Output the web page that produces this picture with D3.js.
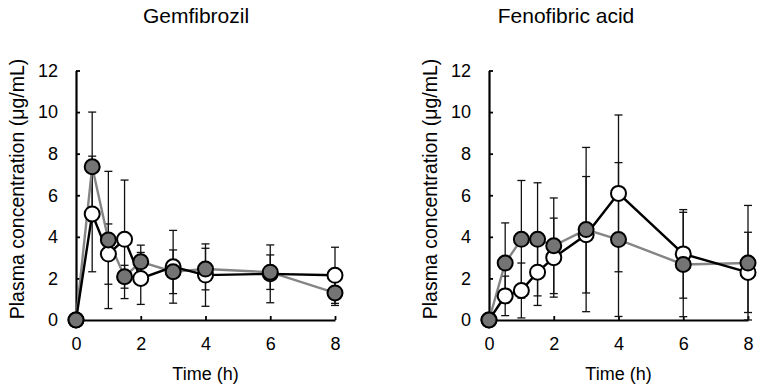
<!DOCTYPE html>
<html>
<head>
<meta charset="utf-8">
<script src="https://cdn.jsdelivr.net/npm/d3@7"></script>
<style>
	body { margin: 0; background: #fff; }
	svg { display: block; font-family: "Liberation Sans", Arial, sans-serif; }
</style>
</head>
<body>
<script>
// Sampling times (h)
const times = [0, 0.5, 1, 1.5, 2, 3, 4, 6, 8];

// Gemfibrozil: open circles (black line) and filled circles (gray line), mean and SD
const gemOpenMean = [0, 5.1, 3.17, 3.88, 2.0, 2.56, 2.16, 2.22, 2.15];
const gemOpenSd = [0, 2.78, 1.45, 2.85, 1.25, 1.75, 1.5, 1.39, 1.35];
const gemFilledMean = [0, 7.37, 3.85, 2.08, 2.8, 2.32, 2.45, 2.3, 1.3];
const gemFilledSd = [0, 2.63, 3.3, 0.55, 0.8, 1.05, 1.0, 0.83, 0.6];

// Fenofibric acid
const fenoOpenMean = [0, 1.16, 1.42, 2.3, 3.0, 4.1, 6.09, 3.18, 2.29];
const fenoOpenSd = [0, 0.95, 1.32, 1.6, 1.9, 2.8, 3.77, 2.13, 1.93];
const fenoFilledMean = [0, 2.74, 3.88, 3.88, 3.57, 4.35, 3.87, 2.67, 2.74];
const fenoFilledSd = [0, 1.93, 2.83, 2.72, 2.3, 3.95, 3.7, 2.51, 2.77];

// Tick labels
const xTicks = [0, 2, 4, 6, 8];
const yTicks = [0, 2, 4, 6, 8, 10, 12];

const w = 762;
const h = 392;

const svg = d3.select("body").append("svg").attr("width", w).attr("height", h);

// One panel per drug
function drawPanel(opts) {
	const xScale = d3.scaleLinear().domain([0, 8]).range([opts.left, opts.left + 259]);
	const yScale = d3.scaleLinear().domain([0, 12]).range([320, 70.5]);

	// Title
	svg.append("text")
		.attr("x", opts.titleX)
		.attr("y", 23)
		.attr("text-anchor", "middle")
		.style("font-size", "21px")
		.text(opts.title);

	// Y axis label
	svg.append("text")
		.attr("transform", `translate(${opts.left - 52}, ${189}) rotate(-90)`)
		.attr("text-anchor", "middle")
		.style("font-size", "19.5px")
		.text("Plasma concentration (μg/mL)");

	// X axis label
	svg.append("text")
		.attr("x", (xScale(0) + xScale(8)) / 2)
		.attr("y", 380)
		.attr("text-anchor", "middle")
		.style("font-size", "18px")
		.text("Time (h)");

	// Axes, ticks pointing inward
	const xAxis = d3.axisBottom(xScale).tickValues(xTicks).tickSizeInner(-4).tickSizeOuter(0).tickPadding(17);
	const yAxis = d3.axisLeft(yScale).tickValues(yTicks).tickSizeInner(-4).tickSizeOuter(0).tickPadding(18);

	const gx = svg.append("g").attr("transform", `translate(0, ${yScale(0)})`).call(xAxis);
	const gy = svg.append("g").attr("transform", `translate(${xScale(0)}, 0)`).call(yAxis);

	[gx, gy].forEach((g) => {
		g.select(".domain").attr("stroke", "#000").attr("stroke-width", 2.2);
		g.selectAll(".tick line").attr("stroke", "#000").attr("stroke-width", 1.8);
		g.selectAll(".tick text")
			.attr("fill", "#000")
			.style("font-size", "18px")
			.style("font-family", "'Liberation Sans', Arial, sans-serif");
	});

	const series = [
		{ mean: opts.openMean, sd: opts.openSd, line: "#000", fill: "#fff" },
		{ mean: opts.filledMean, sd: opts.filledSd, line: "#858585", fill: "#747474" }
	];

	// Error bars (mean ± SD) behind everything
	series.forEach((s) => {
		const pts = times.map((t, i) => ({ t: t, m: s.mean[i], sd: s.sd[i] })).filter((d) => d.sd > 0);
		const g = svg.append("g").attr("stroke", "#111").attr("stroke-width", 1.3);
		g.selectAll("line.bar")
			.data(pts)
			.enter()
			.append("line")
			.attr("x1", (d) => xScale(d.t))
			.attr("x2", (d) => xScale(d.t))
			.attr("y1", (d) => yScale(Math.max(0, d.m - d.sd)))
			.attr("y2", (d) => yScale(d.m + d.sd));
		g.selectAll("line.top")
			.data(pts)
			.enter()
			.append("line")
			.attr("x1", (d) => xScale(d.t) - 4)
			.attr("x2", (d) => xScale(d.t) + 4)
			.attr("y1", (d) => yScale(d.m + d.sd))
			.attr("y2", (d) => yScale(d.m + d.sd));
		g.selectAll("line.bottom")
			.data(pts)
			.enter()
			.append("line")
			.attr("x1", (d) => xScale(d.t) - 4)
			.attr("x2", (d) => xScale(d.t) + 4)
			.attr("y1", (d) => yScale(Math.max(0, d.m - d.sd)))
			.attr("y2", (d) => yScale(Math.max(0, d.m - d.sd)));
	});

	const line = d3.line().x((d) => xScale(d[0])).y((d) => yScale(d[1]));

	// Gray line first, then black line
	[series[1], series[0]].forEach((s) => {
		svg.append("path")
			.datum(times.map((t, i) => [t, s.mean[i]]))
			.attr("fill", "none")
			.attr("stroke", s.line)
			.attr("stroke-width", 2.4)
			.attr("d", line);
	});

	// Markers: open circles, then filled on top
	series.forEach((s) => {
		svg.append("g")
			.selectAll("circle")
			.data(times.map((t, i) => [t, s.mean[i]]))
			.enter()
			.append("circle")
			.attr("cx", (d) => xScale(d[0]))
			.attr("cy", (d) => yScale(d[1]))
			.attr("r", 7.5)
			.attr("fill", s.fill)
			.attr("stroke", "#000")
			.attr("stroke-width", 2);
	});
}

drawPanel({
	title: "Gemfibrozil",
	titleX: 196,
	left: 76,
	openMean: gemOpenMean,
	openSd: gemOpenSd,
	filledMean: gemFilledMean,
	filledSd: gemFilledSd
});

drawPanel({
	title: "Fenofibric acid",
	titleX: 566,
	left: 489,
	openMean: fenoOpenMean,
	openSd: fenoOpenSd,
	filledMean: fenoFilledMean,
	filledSd: fenoFilledSd
});
</script>
</body>
</html>
